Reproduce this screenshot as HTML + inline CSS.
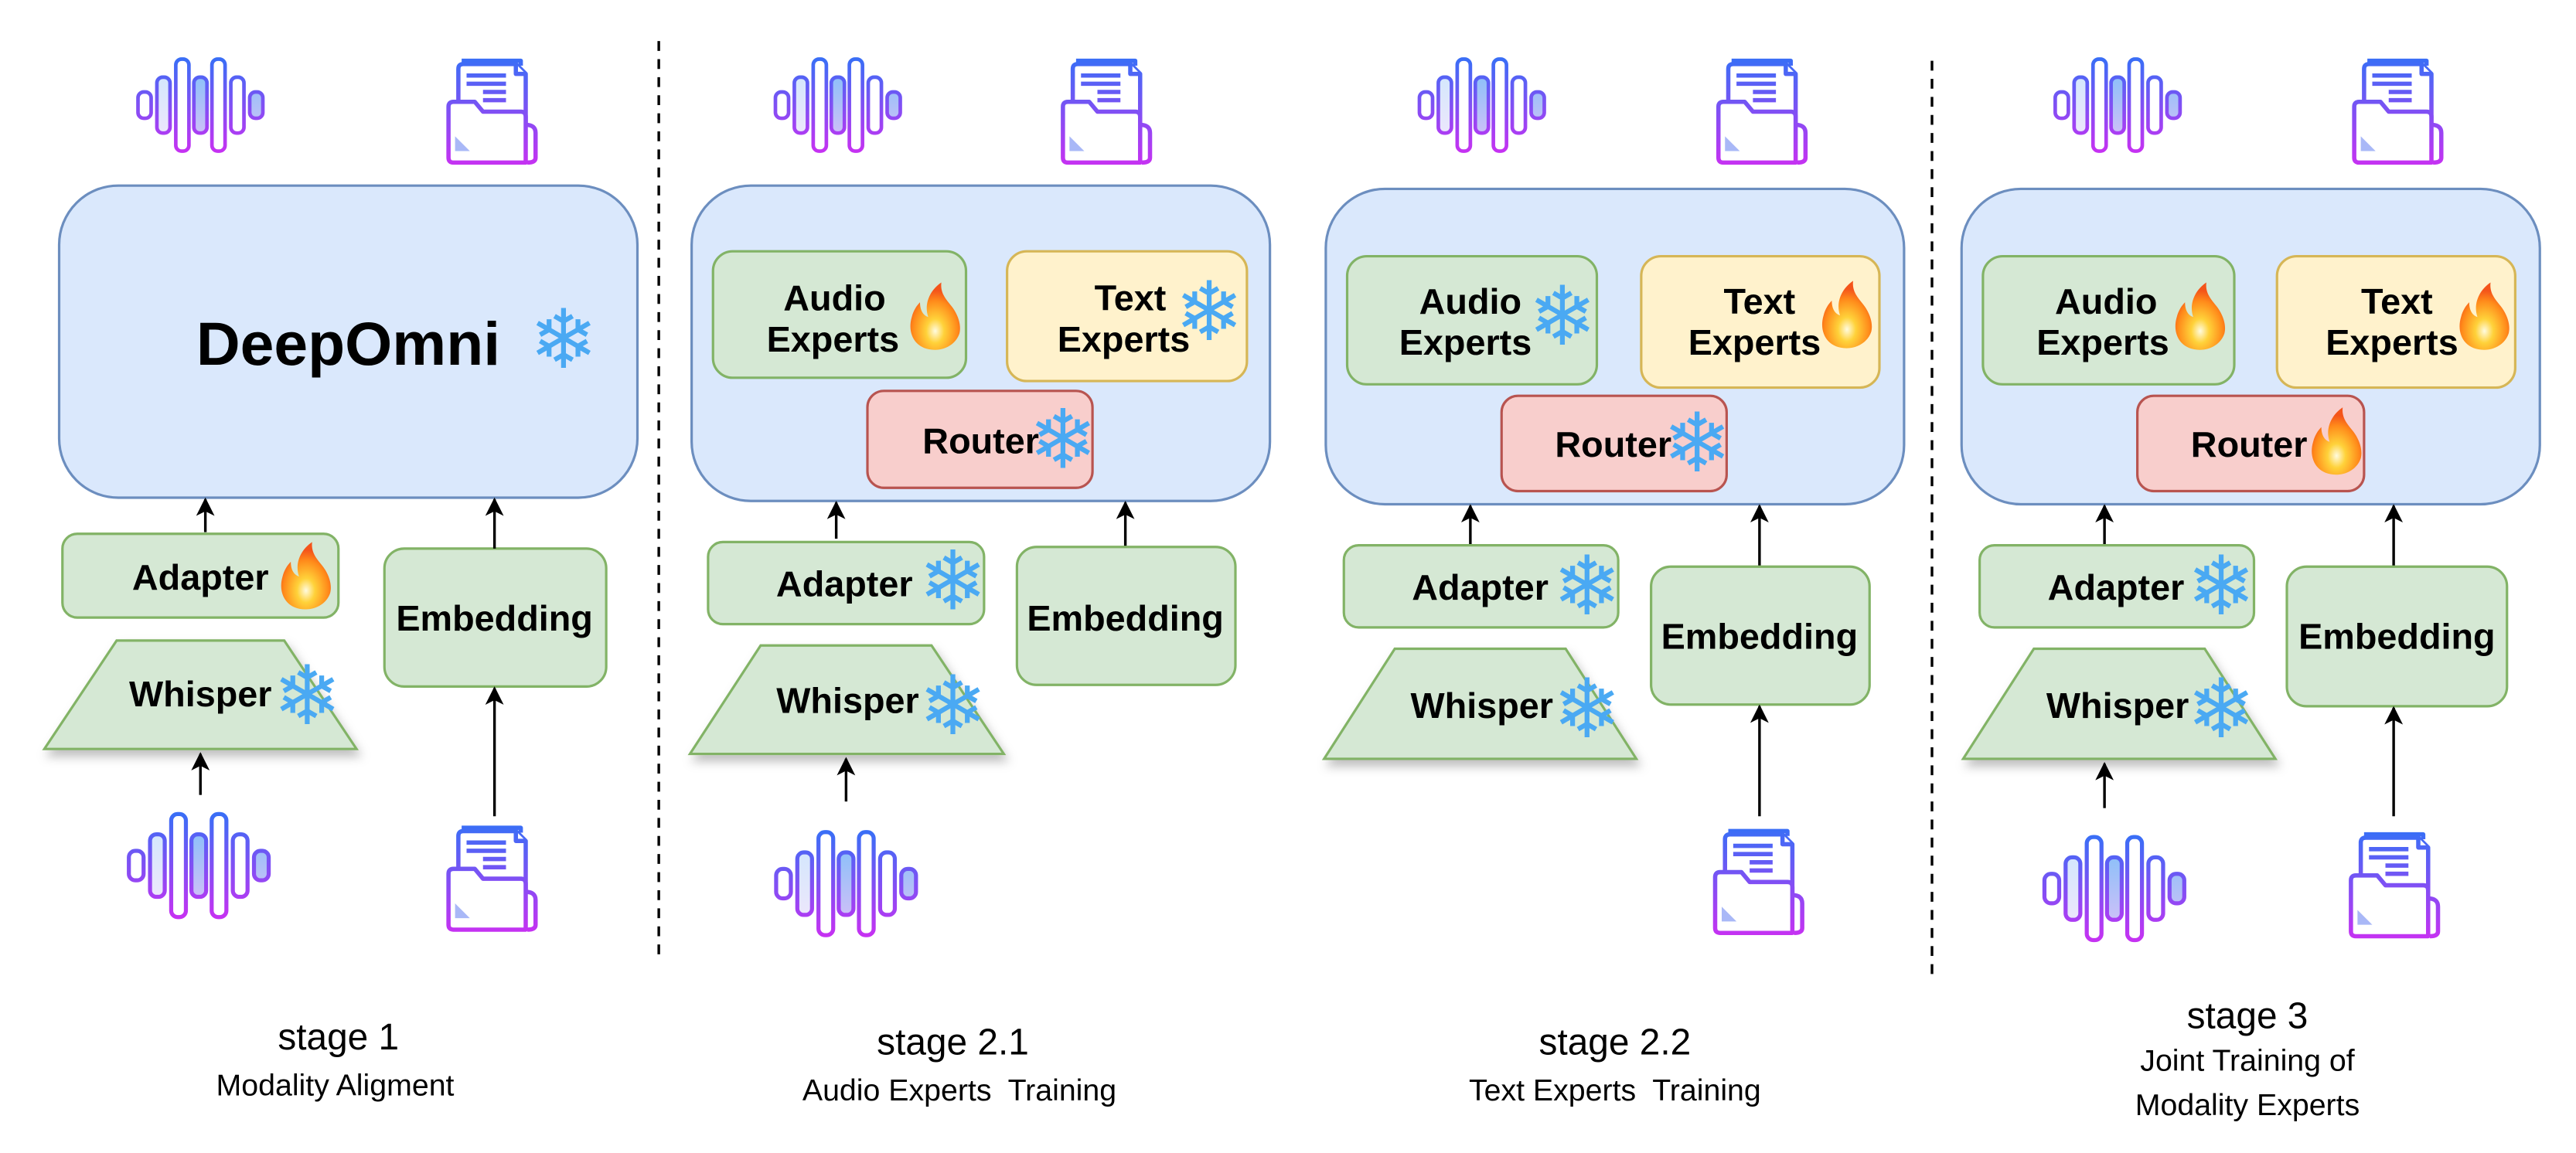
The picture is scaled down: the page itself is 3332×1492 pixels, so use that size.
<!DOCTYPE html>
<html><head><meta charset="utf-8"><style>html,body{margin:0;padding:0;background:#fff}svg{display:block}</style></head>
<body>
<svg width="3332" height="1492" viewBox="0 0 1568 702" preserveAspectRatio="none" xmlns="http://www.w3.org/2000/svg" font-family="'Liberation Sans', Arial, sans-serif">
<defs>
<linearGradient id="wg" gradientUnits="userSpaceOnUse" x1="0" y1="-28" x2="0" y2="28"><stop offset="0" stop-color="#3a6ef6"/><stop offset="1" stop-color="#c532f2"/></linearGradient>
<linearGradient id="wf" gradientUnits="userSpaceOnUse" x1="0" y1="-28" x2="0" y2="28"><stop offset="0" stop-color="#5ab0f8"/><stop offset="1" stop-color="#d7b0f5"/></linearGradient>
<linearGradient id="dg" gradientUnits="userSpaceOnUse" x1="0" y1="0" x2="0" y2="64"><stop offset="0" stop-color="#3a6ef6"/><stop offset="1" stop-color="#c532f2"/></linearGradient>
<radialGradient id="fg" cx="0.5" cy="0.72" r="0.6"><stop offset="0" stop-color="#fffbe0"/><stop offset="0.3" stop-color="#ffd23a"/><stop offset="0.75" stop-color="#ff8a1a"/><stop offset="1" stop-color="#f4541a"/></radialGradient>
<filter id="sh" x="-10%" y="-10%" width="130%" height="140%"><feDropShadow dx="2" dy="4" stdDeviation="3" flood-color="#000" flood-opacity="0.25"/></filter>
<marker id="ah" viewBox="0 0 10 10" refX="9" refY="5" markerWidth="7" markerHeight="7" orient="auto"><path d="M0,0 L10,5 L0,10 L2.5,5 Z" fill="#000"/></marker>
<symbol id="wave" overflow="visible">
<g stroke="url(#wg)" stroke-width="2.2" fill="#fff">
<rect x="-38" y="-8" width="8" height="16" rx="3.5"/>
<rect x="-26.5" y="-17" width="8" height="34" rx="3.5" fill="url(#wf)" fill-opacity="0.3"/>
<rect x="-15" y="-28" width="8" height="56" rx="3.5"/>
<rect x="-4" y="-17" width="8" height="34" rx="3.5" fill="url(#wf)" fill-opacity="0.8"/>
<rect x="7" y="-28" width="8" height="56" rx="3.5"/>
<rect x="18.5" y="-17" width="8" height="34" rx="3.5"/>
<rect x="30" y="-8" width="8" height="16" rx="3.5" fill="url(#wf)" fill-opacity="0.8"/>
</g></symbol>
<symbol id="doc" overflow="visible">
<g stroke="url(#dg)" stroke-width="2.6" fill="#fff" stroke-linejoin="round">
<path d="M9,1 H45 V4"/>
<path d="M7,32 V6 Q7,3 10,3 H42 L48,9 V44"/>
<path d="M42,3 V9 H48"/>
<path d="M48,40 Q54,40 54,45 V60 Q54,63 49,63"/>
<path d="M1,29 Q1,26 4,26 H17 L22,32 H45 Q48,32 48,35 V63 H4 Q1,63 1,60 Z"/>
</g>
<g stroke="url(#dg)" stroke-width="2.6"><line x1="12" y1="10" x2="36" y2="10"/><line x1="12" y1="15" x2="36" y2="15"/><line x1="22" y1="20" x2="36" y2="20"/><line x1="22" y1="25" x2="36" y2="25"/></g>
<path d="M5,47 L14,56 H5 Z" fill="#a9b8f7"/>
</symbol>
<symbol id="fire" overflow="visible">
<path d="M0,19 C-12,19 -17,9 -14,-1 C-13,-5 -11,-8 -9,-10 C-9,-5 -7,-2 -4,-1 C-7,-10 -2,-18 4,-22 C3,-14 9,-10 12,-5 C15,0 16,5 15,9 C13,15 7,19 0,19 Z" fill="url(#fg)"/>
</symbol>
<symbol id="snow" overflow="visible">
<text x="0" y="0" font-family="'DejaVu Sans', sans-serif" font-size="50" fill="#4aa9f3" text-anchor="middle" dominant-baseline="central">❄</text>
</symbol>
</defs>

<g font-weight="bold" text-anchor="middle" fill="#000">
<!-- ===== Stage 1 ===== -->
<use href="#wave" x="122" y="64"/>
<use href="#doc" x="272" y="36"/>
<rect x="36" y="113" width="352" height="190" rx="36" fill="#dae8fc" stroke="#6c8ebf" stroke-width="1.5"/>
<text x="212" y="222" font-size="37">DeepOmni</text>
<use href="#snow" x="343" y="207"/>
<line x1="125" y1="324" x2="125" y2="304" stroke="#000" stroke-width="1.6" marker-end="url(#ah)"/>
<rect x="38" y="325" width="168" height="51" rx="9" fill="#d5e8d4" stroke="#82b366" stroke-width="1.5"/>
<text x="122" y="359" font-size="22">Adapter</text>
<use href="#fire" x="186" y="352"/>
<polygon points="27,456 71,390 173,390 217,456" fill="#d5e8d4" stroke="#82b366" stroke-width="1.5" filter="url(#sh)"/>
<text x="122" y="430" font-size="22">Whisper</text>
<use href="#snow" x="187" y="424"/>
<line x1="122" y1="484" x2="122" y2="459" stroke="#000" stroke-width="1.6" marker-end="url(#ah)"/>
<use href="#wave" x="121" y="527" transform="translate(121 527) scale(1.12) translate(-121 -527)"/>
<rect x="234" y="334" width="135" height="84" rx="12" fill="#d5e8d4" stroke="#82b366" stroke-width="1.5"/>
<text x="301" y="384" font-size="22">Embedding</text>
<line x1="301" y1="334" x2="301" y2="304" stroke="#000" stroke-width="1.6" marker-end="url(#ah)"/>
<line x1="301" y1="497" x2="301" y2="419" stroke="#000" stroke-width="1.6" marker-end="url(#ah)"/>
<use href="#doc" x="272" y="503"/>
<text x="206" y="639" font-size="22.5" font-weight="normal">stage 1</text>
<text x="204" y="667" font-size="18.5" font-weight="normal">Modality Aligment</text>

<line x1="401" y1="25" x2="401" y2="585" stroke="#000" stroke-width="1.6" stroke-dasharray="6,5"/>

<!-- ===== Stage 2.1 ===== -->
<use href="#wave" x="510" y="64"/>
<use href="#doc" x="646" y="36"/>
<rect x="421" y="113" width="352" height="192" rx="36" fill="#dae8fc" stroke="#6c8ebf" stroke-width="1.5"/>
<rect x="434" y="153" width="154" height="77" rx="12" fill="#d5e8d4" stroke="#82b366" stroke-width="1.5"/>
<text x="508" y="189" font-size="22">Audio</text><text x="507" y="214" font-size="22">Experts</text>
<use href="#fire" x="569" y="194"/>
<rect x="613" y="153" width="146" height="79" rx="12" fill="#fff2cc" stroke="#d6b656" stroke-width="1.5"/>
<text x="688" y="189" font-size="22">Text</text><text x="684" y="214" font-size="22">Experts</text>
<use href="#snow" x="736" y="190"/>
<rect x="528" y="238" width="137" height="59" rx="10" fill="#f8cecc" stroke="#b85450" stroke-width="1.5"/>
<text x="597" y="276" font-size="22">Router</text>
<use href="#snow" x="647" y="268"/>
<line x1="509" y1="328" x2="509" y2="306" stroke="#000" stroke-width="1.6" marker-end="url(#ah)"/>
<line x1="685" y1="335" x2="685" y2="306" stroke="#000" stroke-width="1.6" marker-end="url(#ah)"/>
<rect x="431" y="330" width="168" height="50" rx="9" fill="#d5e8d4" stroke="#82b366" stroke-width="1.5"/>
<text x="514" y="363" font-size="22">Adapter</text>
<use href="#snow" x="580" y="354"/>
<polygon points="420,459 463,393 567,393 611,459" fill="#d5e8d4" stroke="#82b366" stroke-width="1.5" filter="url(#sh)"/>
<text x="516" y="434" font-size="22">Whisper</text>
<use href="#snow" x="580" y="430"/>
<line x1="515" y1="488" x2="515" y2="462" stroke="#000" stroke-width="1.6" marker-end="url(#ah)"/>
<use href="#wave" x="515" y="538" transform="translate(515 538) scale(1.12) translate(-515 -538)"/>
<rect x="619" y="333" width="133" height="84" rx="12" fill="#d5e8d4" stroke="#82b366" stroke-width="1.5"/>
<text x="685" y="384" font-size="22">Embedding</text>
<text x="580" y="642" font-size="22.5" font-weight="normal">stage 2.1</text>
<text x="584" y="670" font-size="18.5" font-weight="normal" xml:space="preserve">Audio Experts  Training</text>

<!-- ===== Stage 2.2 ===== -->
<use href="#wave" x="902" y="64"/>
<use href="#doc" x="1045" y="36"/>
<rect x="807" y="115" width="352" height="192" rx="36" fill="#dae8fc" stroke="#6c8ebf" stroke-width="1.5"/>
<rect x="820" y="156" width="152" height="78" rx="12" fill="#d5e8d4" stroke="#82b366" stroke-width="1.5"/>
<text x="895" y="191" font-size="22">Audio</text><text x="892" y="216" font-size="22">Experts</text>
<use href="#snow" x="951" y="193"/>
<rect x="999" y="156" width="145" height="80" rx="12" fill="#fff2cc" stroke="#d6b656" stroke-width="1.5"/>
<text x="1071" y="191" font-size="22">Text</text><text x="1068" y="216" font-size="22">Experts</text>
<use href="#fire" x="1124" y="193"/>
<rect x="914" y="241" width="137" height="58" rx="10" fill="#f8cecc" stroke="#b85450" stroke-width="1.5"/>
<text x="982" y="278" font-size="22">Router</text>
<use href="#snow" x="1033" y="270"/>
<line x1="895" y1="333" x2="895" y2="308" stroke="#000" stroke-width="1.6" marker-end="url(#ah)"/>
<line x1="1071" y1="345" x2="1071" y2="308" stroke="#000" stroke-width="1.6" marker-end="url(#ah)"/>
<rect x="818" y="332" width="167" height="50" rx="9" fill="#d5e8d4" stroke="#82b366" stroke-width="1.5"/>
<text x="901" y="365" font-size="22">Adapter</text>
<use href="#snow" x="966" y="357"/>
<polygon points="806,462 849,395 953,395 996,462" fill="#d5e8d4" stroke="#82b366" stroke-width="1.5" filter="url(#sh)"/>
<text x="902" y="437" font-size="22">Whisper</text>
<use href="#snow" x="966" y="432"/>
<rect x="1005" y="345" width="133" height="84" rx="12" fill="#d5e8d4" stroke="#82b366" stroke-width="1.5"/>
<text x="1071" y="395" font-size="22">Embedding</text>
<line x1="1071" y1="497" x2="1071" y2="430" stroke="#000" stroke-width="1.6" marker-end="url(#ah)"/>
<use href="#doc" x="1043" y="505"/>
<text x="983" y="642" font-size="22.5" font-weight="normal">stage 2.2</text>
<text x="983" y="670" font-size="18.5" font-weight="normal" xml:space="preserve">Text Experts  Training</text>

<line x1="1176" y1="37" x2="1176" y2="595" stroke="#000" stroke-width="1.6" stroke-dasharray="6,5"/>

<!-- ===== Stage 3 ===== -->
<use href="#wave" x="1289" y="64"/>
<use href="#doc" x="1432" y="36"/>
<rect x="1194" y="115" width="352" height="192" rx="36" fill="#dae8fc" stroke="#6c8ebf" stroke-width="1.5"/>
<rect x="1207" y="156" width="153" height="78" rx="12" fill="#d5e8d4" stroke="#82b366" stroke-width="1.5"/>
<text x="1282" y="191" font-size="22">Audio</text><text x="1280" y="216" font-size="22">Experts</text>
<use href="#fire" x="1339" y="194"/>
<rect x="1386" y="156" width="145" height="80" rx="12" fill="#fff2cc" stroke="#d6b656" stroke-width="1.5"/>
<text x="1459" y="191" font-size="22">Text</text><text x="1456" y="216" font-size="22">Experts</text>
<use href="#fire" x="1512" y="194"/>
<rect x="1301" y="241" width="138" height="58" rx="10" fill="#f8cecc" stroke="#b85450" stroke-width="1.5"/>
<text x="1369" y="278" font-size="22">Router</text>
<use href="#fire" x="1422" y="270"/>
<line x1="1281" y1="333" x2="1281" y2="308" stroke="#000" stroke-width="1.6" marker-end="url(#ah)"/>
<line x1="1457" y1="345" x2="1457" y2="308" stroke="#000" stroke-width="1.6" marker-end="url(#ah)"/>
<rect x="1205" y="332" width="167" height="50" rx="9" fill="#d5e8d4" stroke="#82b366" stroke-width="1.5"/>
<text x="1288" y="365" font-size="22">Adapter</text>
<use href="#snow" x="1352" y="357"/>
<polygon points="1195,462 1238,395 1342,395 1385,462" fill="#d5e8d4" stroke="#82b366" stroke-width="1.5" filter="url(#sh)"/>
<text x="1289" y="437" font-size="22">Whisper</text>
<use href="#snow" x="1352" y="432"/>
<line x1="1281" y1="492" x2="1281" y2="465" stroke="#000" stroke-width="1.6" marker-end="url(#ah)"/>
<use href="#wave" x="1287" y="541" transform="translate(1287 541) scale(1.12) translate(-1287 -541)"/>
<rect x="1392" y="345" width="134" height="85" rx="12" fill="#d5e8d4" stroke="#82b366" stroke-width="1.5"/>
<text x="1459" y="395" font-size="22">Embedding</text>
<line x1="1457" y1="497" x2="1457" y2="431" stroke="#000" stroke-width="1.6" marker-end="url(#ah)"/>
<use href="#doc" x="1430" y="507"/>
<text x="1368" y="626" font-size="22.5" font-weight="normal">stage 3</text>
<text x="1368" y="652" font-size="18.5" font-weight="normal">Joint Training of</text>
<text x="1368" y="679" font-size="18.5" font-weight="normal">Modality Experts</text>
</g>
</svg>
</body></html>
